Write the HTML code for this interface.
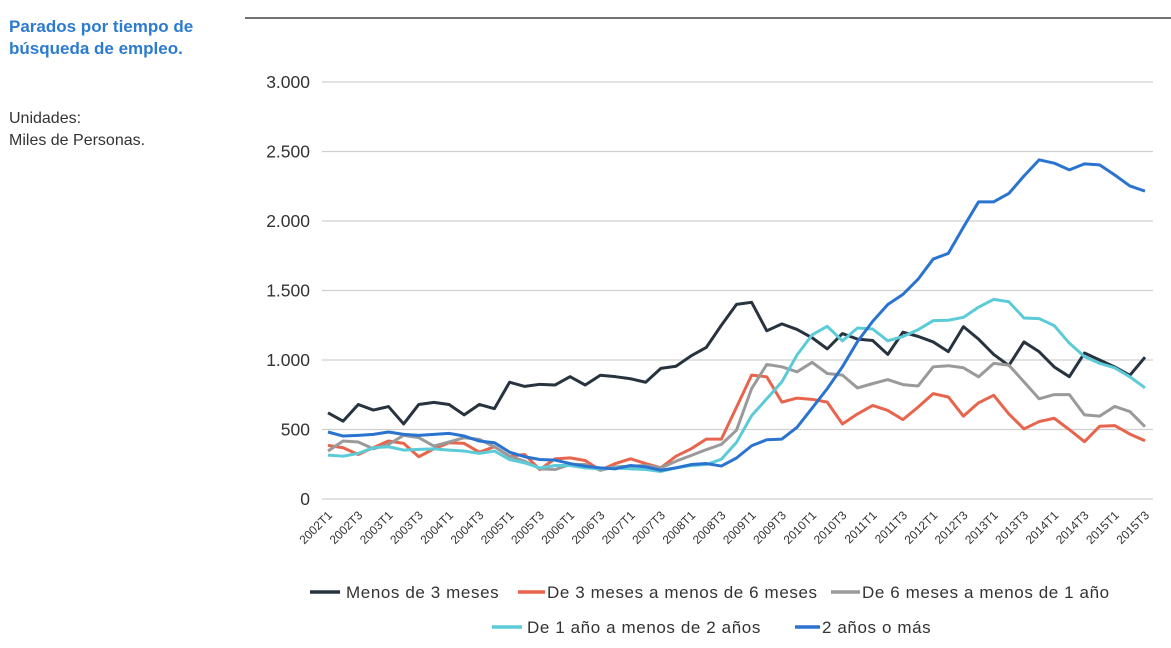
<!DOCTYPE html>
<html><head><meta charset="utf-8"><style>
body{margin:0;background:#fff;font-family:"Liberation Sans",sans-serif;}
svg{display:block}
</style></head><body>
<svg id="c" width="1171" height="648" xmlns="http://www.w3.org/2000/svg">
<line x1="245" y1="18" x2="1171" y2="18" stroke="#444" stroke-width="1.5"/>
<text x="9" y="32" font-size="17" font-weight="bold" fill="#2d7bd0">Parados por tiempo de</text>
<text x="9" y="54" font-size="17" font-weight="bold" fill="#2d7bd0">búsqueda de empleo.</text>
<text x="9" y="123" font-size="16" fill="#333">Unidades:</text>
<text x="9" y="145" font-size="16" fill="#333">Miles de Personas.</text>
<g id="grid"></g><g id="xl"></g><g id="lines"></g><g id="legend"></g>
</svg>
<script>
const categories=[];for(let y=2002;y<=2015;y++){for(let q=1;q<=4;q++){if(y===2015&&q>3)break;categories.push(y+'T'+q);}}
const yTicks=[0,500,1000,1500,2000,2500,3000];
const yTickLabels=['0','500','1.000','1.500','2.000','2.500','3.000'];
const menos3=[620,560,680,640,665,540,680,695,680,605,680,650,840,810,825,820,880,820,890,880,865,840,940,955,1030,1090,1250,1400,1415,1210,1260,1220,1160,1080,1190,1150,1140,1040,1200,1170,1130,1060,1240,1150,1040,960,1130,1060,950,880,1050,1000,950,890,1020];
const de3a6=[386,369,320,370,417,400,304,361,405,400,337,376,308,320,212,289,296,277,207,255,289,255,224,308,361,431,431,660,891,879,697,726,717,697,540,612,673,637,571,661,758,734,596,692,746,612,504,557,581,499,412,523,528,467,419];
const de6a1=[345,417,410,361,393,458,441,381,410,441,429,376,308,272,217,212,248,248,207,231,236,241,224,272,313,355,393,495,794,968,951,915,983,903,891,799,830,859,823,813,951,959,944,879,976,963,843,721,751,751,605,596,666,629,520];
const de1a2=[316,308,328,369,376,352,357,361,352,345,328,345,284,260,224,241,241,224,217,224,217,212,198,224,241,248,286,407,600,721,843,1036,1181,1242,1138,1230,1223,1138,1169,1218,1283,1286,1307,1380,1436,1419,1302,1298,1247,1121,1024,976,944,879,800];
const mas2=[482,453,458,465,482,465,458,465,472,453,417,405,337,304,284,280,255,236,224,217,241,231,207,224,248,255,237,295,383,426,431,516,654,794,951,1133,1278,1399,1472,1581,1726,1767,1956,2138,2138,2198,2324,2440,2416,2368,2411,2404,2331,2252,2215];
const seriesNames=['Menos de 3 meses','De 3 meses a menos de 6 meses','De 6 meses a menos de 1 año','De 1 año a menos de 2 años','2 años o más'];
const NS='http://www.w3.org/2000/svg';
const X0=328,X1=1145,Y0=499,Y1=82;
const x=i=>X0+i*(X1-X0)/(categories.length-1);
const y=v=>Y0-v*(Y0-Y1)/3000;
function mk(t,a,p){const e=document.createElementNS(NS,t);for(const k in a)e.setAttribute(k,a[k]);p.appendChild(e);return e;}
const grid=document.getElementById('grid');
yTicks.forEach((v,i)=>{
 const l=mk('line',{x1:322,x2:1153,y1:y(v),y2:y(v),stroke:'#d0d0d0','stroke-width':1.3},grid);
 
 
 const t=mk('text',{x:310,y:y(v)+6,'text-anchor':'end','font-size':17.5,fill:'#333'},grid);
 t.textContent=yTickLabels[i];
 
 
});
const xl=document.getElementById('xl');
categories.forEach((c,i)=>{if(i%2)return;
 const px=x(i)+5,py=516;
 const t=mk('text',{x:px,y:py,'text-anchor':'end','font-size':12,fill:'#333',transform:`rotate(-45 ${px} ${py})`},xl);
 t.textContent=c;
 
 
});
const data=[menos3,de3a6,de6a1,de1a2,mas2];
const colors=['#27333f','#e8644c','#9a9a9a','#5ccbd8','#2a74d0'];
const lines=document.getElementById('lines');
const keys=['menos-3-meses','3-a-6-meses','6-meses-a-1-ano','1-a-2-anos','2-anos-o-mas'];
data.forEach((s,k)=>{
 const p=mk('polyline',{points:s.map((v,i)=>x(i)+','+y(v)).join(' '),fill:'none',stroke:colors[k],'stroke-width':3,'stroke-linejoin':'round'},lines);
 
 
});
const lg=document.getElementById('legend');
const pos=[[310,340,346,598],[518,545,547,598],[831,860,862,598],[492,522,527,633],[795,820,822,633]];
pos.forEach((p,k)=>{
 const g=mk('g',{},lg);
 
 
 mk('line',{x1:p[0],x2:p[1],y1:p[3]-6,y2:p[3]-6,stroke:colors[k],'stroke-width':3.5},g);
 const t=mk('text',{x:p[2],y:p[3],'font-size':17,fill:'#333','letter-spacing':0.6},g);
 t.textContent=seriesNames[k];
});
</script>
</body></html>
